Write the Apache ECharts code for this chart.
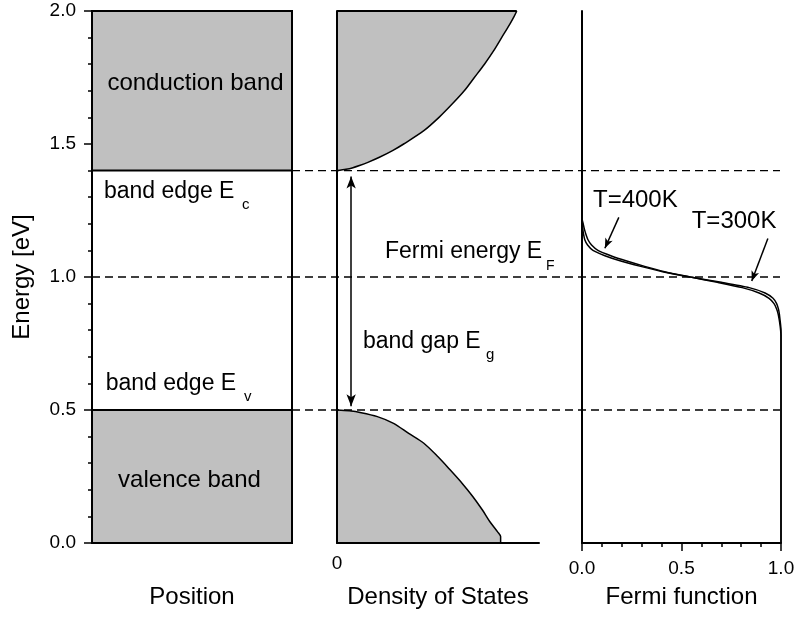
<!DOCTYPE html>
<html><head><meta charset="utf-8">
<script src="https://cdn.jsdelivr.net/npm/echarts@6/dist/echarts.min.js"></script>
<style>html,body{margin:0;padding:0;background:#fff}#c{width:799px;height:622px}</style>
</head><body><div id="c"></div>
<script>
// ---- data ----
const E_MIN = 0.0, E_MAX = 2.0, E_C = 1.4, E_V = 0.5, E_F = 1.0;
const Y_INTERVAL = 0.5;
const BANDS = [[E_C, E_MAX], [E_MIN, E_V]];
const DASH_LEVELS = [E_C, E_F, E_V];

// density of states, conduction band (energy, DOS)
const DOS_C_E = [1.40, 1.405, 1.41, 1.42, 1.43, 1.45, 1.475, 1.50, 1.55, 1.60, 1.65, 1.70, 1.75, 1.80, 1.85, 1.90, 1.95, 1.98, 2.00];
const DOS_C   = [0.0, 0.045, 0.075, 0.115, 0.15, 0.21, 0.275, 0.33, 0.43, 0.505, 0.57, 0.63, 0.68, 0.73, 0.775, 0.815, 0.855, 0.877, 0.89];
// density of states, valence band
const DOS_V_E = [0.50, 0.497, 0.49, 0.475, 0.45, 0.412, 0.375, 0.324, 0.275, 0.224, 0.175, 0.124, 0.08, 0.042, 0.024, 0.0];
const DOS_V   = [0.0, 0.06, 0.12, 0.20, 0.28, 0.355, 0.43, 0.50, 0.56, 0.62, 0.672, 0.72, 0.757, 0.795, 0.81, 0.81];

// band gap arrow
const GAP_X = 0.07, GAP_TOP = 1.378, GAP_BOT = 0.514;

// Fermi function
const FERMI_E   = [2.00, 1.22, 1.20, 1.18, 1.16, 1.14, 1.12, 1.10, 1.08, 1.06, 1.04, 1.02, 1.00, 0.98, 0.96, 0.94, 0.92, 0.90, 0.88, 0.86, 0.84, 0.82, 0.80, 0.78, 0.00];
const FERMI_300 = [0, 0, 0.002, 0.004, 0.008, 0.014, 0.028, 0.055, 0.115, 0.195, 0.295, 0.405, 0.545, 0.700, 0.840, 0.920, 0.960, 0.978, 0.987, 0.992, 0.995, 0.998, 1.0, 1.0, 1.0];
const FERMI_400 = [0, 0, 0.006, 0.012, 0.020, 0.030, 0.048, 0.080, 0.145, 0.225, 0.315, 0.415, 0.545, 0.680, 0.805, 0.890, 0.940, 0.965, 0.978, 0.986, 0.991, 0.995, 0.998, 1.0, 1.0];
const ARROW_300 = [[0.934, 1.145], [0.853, 0.985]];
const ARROW_400 = [[0.185, 1.224], [0.115, 1.108]];
const FERMI_TICKS = [0, 0.5, 1.0];

// ---- styles ----
const FONT = '"Liberation Sans", Arial, sans-serif';
const BLACK = '#000';
const GRAY = '#c0c0c0';
const nameStyle = {color: BLACK, fontSize: 24, fontFamily: FONT};
const labelStyle = {color: BLACK, fontSize: 19, fontFamily: FONT};
const axLine = {show: true, onZero: false, lineStyle: {color: BLACK, width: 2}};
const noTick = {show: false};
const noLabel = {show: false};
const noSplit = {show: false};

const chart = echarts.init(document.getElementById('c'), null, {renderer: 'canvas'});

function text(t, x, y, size, align) {
  return {type: 'text', x: x, y: y, z: 100,
    style: {text: t, fill: BLACK, font: size + 'px ' + FONT, align: align || 'left', verticalAlign: 'middle'}};
}

const option = {
  animation: false,
  backgroundColor: '#fff',
  grid: [
    {left: 92, top: 11, width: 200, height: 532},
    {left: 337, top: 11, width: 202, height: 532},
    {left: 582, top: 11, width: 199, height: 532},
    {left: 292, top: 11, width: 488, height: 532}
  ],
  xAxis: [
    {gridIndex: 0, type: 'value', min: 0, max: 1, axisLine: axLine, axisTick: noTick, axisLabel: noLabel, splitLine: noSplit,
     name: 'Position', nameLocation: 'middle', nameGap: 42, nameTextStyle: nameStyle, z: 10},
    {gridIndex: 0, type: 'value', position: 'top', min: 0, max: 1, axisLine: axLine, axisTick: noTick, axisLabel: noLabel, splitLine: noSplit, z: 10},
    {gridIndex: 1, type: 'value', min: 0, max: 1, interval: 1, axisLine: axLine, axisTick: noTick, splitLine: noSplit,
     axisLabel: Object.assign({margin: 11, formatter: v => (v === 0 ? '0' : '')}, labelStyle),
     name: 'Density of States', nameLocation: 'middle', nameGap: 42, nameTextStyle: nameStyle, z: 10},
    {gridIndex: 2, type: 'value', min: FERMI_TICKS[0], max: FERMI_TICKS[2], interval: FERMI_TICKS[1] - FERMI_TICKS[0],
     axisLine: axLine, splitLine: noSplit,
     axisTick: {show: true, inside: false, length: 8, lineStyle: {color: BLACK, width: 1.5}},
     minorTick: {show: true, splitNumber: 5, length: 4, lineStyle: {color: BLACK, width: 1.5}},
     axisLabel: Object.assign({margin: 16, formatter: v => v.toFixed(1)}, labelStyle),
     name: 'Fermi function', nameLocation: 'middle', nameGap: 42, nameTextStyle: nameStyle, z: 10},
    {gridIndex: 3, type: 'value', min: 0, max: 1, show: false}
  ],
  yAxis: [
    {gridIndex: 0, type: 'value', min: E_MIN, max: E_MAX, interval: Y_INTERVAL, axisLine: axLine, splitLine: noSplit,
     axisTick: {show: true, inside: false, length: 8, lineStyle: {color: BLACK, width: 1.5}},
     minorTick: {show: true, splitNumber: 5, length: 4, lineStyle: {color: BLACK, width: 1.5}},
     axisLabel: Object.assign({margin: 16, formatter: v => v.toFixed(1)}, labelStyle),
     name: 'Energy [eV]', nameLocation: 'middle', nameRotate: 90, nameGap: 58, nameTextStyle: nameStyle, z: 10},
    {gridIndex: 0, type: 'value', position: 'right', min: E_MIN, max: E_MAX, axisLine: axLine, axisTick: noTick, axisLabel: noLabel, splitLine: noSplit, z: 10},
    {gridIndex: 1, type: 'value', min: E_MIN, max: E_MAX, axisLine: axLine, axisTick: noTick, axisLabel: noLabel, splitLine: noSplit, z: 10},
    {gridIndex: 2, type: 'value', min: E_MIN, max: E_MAX, axisLine: axLine, axisTick: noTick, axisLabel: noLabel, splitLine: noSplit, z: 10},
    {gridIndex: 3, type: 'value', min: E_MIN, max: E_MAX, show: false}
  ],
  series: [
    {type: 'custom', xAxisIndex: 0, yAxisIndex: 0, data: BANDS, z: 2,
     renderItem: function (params, api) {
       const p0 = api.coord([0, api.value(1)]);
       const p1 = api.coord([1, api.value(0)]);
       return {type: 'rect', shape: {x: p0[0], y: p0[1], width: p1[0] - p0[0], height: p1[1] - p0[1]},
               style: {fill: GRAY, stroke: BLACK, lineWidth: 2}};
     }},
    {type: 'line', xAxisIndex: 0, yAxisIndex: 0, data: [[0, E_F], [1, E_F]], symbol: 'none', z: 3,
     lineStyle: {color: BLACK, width: 1.3, type: [8, 5]}},
    // conduction-band DOS: area between curve and top of the axis
    {type: 'line', xAxisIndex: 2, yAxisIndex: 2, symbol: 'none', smooth: 0.3, z: 2,
     data: DOS_C_E.map((e, i) => [DOS_C[i], e]),
     lineStyle: {color: BLACK, width: 1.5},
     areaStyle: {color: GRAY, opacity: 1, origin: 'end'}},
    {type: 'line', xAxisIndex: 2, yAxisIndex: 2, symbol: 'none', z: 3,
     data: [[0, E_MAX], [DOS_C[DOS_C.length - 1], E_MAX]],
     lineStyle: {color: BLACK, width: 2}},
    // valence-band DOS: area between curve and bottom of the axis
    {type: 'line', xAxisIndex: 2, yAxisIndex: 2, symbol: 'none', smooth: 0.3, z: 2,
     data: DOS_V_E.map((e, i) => [DOS_V[i], e]),
     lineStyle: {color: BLACK, width: 1.5},
     areaStyle: {color: GRAY, opacity: 1, origin: 'start'}},
    {type: 'line', xAxisIndex: 2, yAxisIndex: 2, data: [[GAP_X, GAP_TOP]], symbol: 'none', lineStyle: {opacity: 0}, z: 4,
     markLine: {silent: true, symbol: ['arrow', 'arrow'], symbolSize: [7, 12], label: {show: false},
                lineStyle: {color: BLACK, width: 1.5, type: 'solid'},
                data: [[{coord: [GAP_X, GAP_TOP]}, {coord: [GAP_X, GAP_BOT]}]]}},
    {type: 'line', name: 'T=300K', xAxisIndex: 3, yAxisIndex: 3, symbol: 'none', smooth: 0.2, z: 4,
     lineStyle: {color: BLACK, width: 1.5},
     data: FERMI_E.map((e, i) => [FERMI_300[i], e]),
     markLine: {silent: true, symbol: ['none', 'arrow'], symbolSize: [6, 10], label: {show: false},
                lineStyle: {color: BLACK, width: 1.5, type: 'solid'},
                data: [[{coord: ARROW_300[0]}, {coord: ARROW_300[1]}]]}},
    {type: 'line', name: 'T=400K', xAxisIndex: 3, yAxisIndex: 3, symbol: 'none', smooth: 0.2, z: 4,
     lineStyle: {color: BLACK, width: 1.5},
     data: FERMI_E.map((e, i) => [FERMI_400[i], e]),
     markLine: {silent: true, symbol: ['none', 'arrow'], symbolSize: [6, 10], label: {show: false},
                lineStyle: {color: BLACK, width: 1.5, type: 'solid'},
                data: [[{coord: ARROW_400[0]}, {coord: ARROW_400[1]}]]}}
  ].concat(DASH_LEVELS.map(lv => ({
    type: 'line', xAxisIndex: 4, yAxisIndex: 4, data: [[0, lv], [1, lv]], symbol: 'none', z: 3,
    lineStyle: {color: BLACK, width: 1.3, type: [8, 5]}
  }))),
  graphic: [
    text('conduction band', 195.5, 83.5, 24, 'center'),
    text('band edge E', 104, 192, 23), text('c', 242, 205, 15),
    text('Fermi energy E', 385, 251.7, 23), text('F', 546, 266, 14),
    text('band gap E', 363, 341.7, 23), text('g', 486, 355, 15),
    text('band edge E', 105.7, 384, 23), text('v', 244, 397, 15),
    text('valence band', 189.5, 480, 24, 'center'),
    text('T=400K', 593, 200.8, 24),
    text('T=300K', 691.7, 221.5, 24)
  ]
};
chart.setOption(option);
</script></body></html>
